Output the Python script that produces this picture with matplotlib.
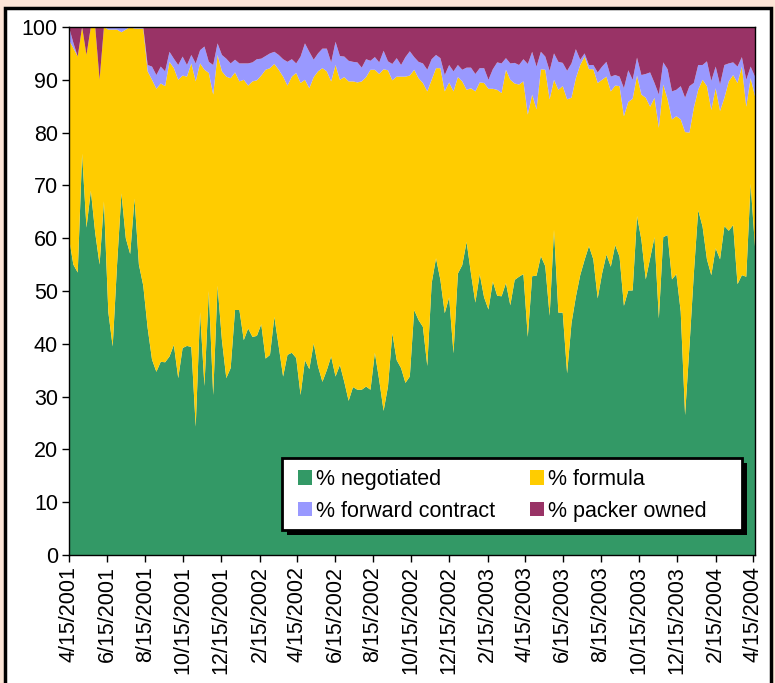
import pandas as pd
import matplotlib
matplotlib.use('Agg')
import matplotlib.pyplot as plt
from matplotlib.patches import Rectangle
from matplotlib.ticker import FuncFormatter
import matplotlib.dates as mdates

plt.rcParams['font.family'] = ['Liberation Sans', 'DejaVu Sans']

# weekly shares (%), starting 4/15/2001
negotiated = [60, 55, 53.5, 76, 62, 69, 61, 55, 67, 46,
              39.5, 55, 68.5, 60, 57, 67.5, 55, 51, 43, 37,
              34.7, 36.6, 36.5, 37.6, 39.8, 33.5, 39.2, 39.6, 39.4, 24.3,
              46, 32, 50, 30.3, 51, 40.7, 33.5, 35.4, 46.4, 46.4,
              40.7, 42.9, 41.3, 41.5, 43.7, 37.2, 37.9, 45.1, 39.5, 33.8,
              37.9, 38.3, 37.3, 30.3, 36.9, 35.2, 40.1, 35.7, 32.8, 35,
              37.6, 33.8, 36, 32.8, 29.2, 31.8, 31.3, 31.3, 31.9, 31.3,
              38.3, 33.1, 27.3, 31.9, 42, 36.9, 35.4, 32.6, 33.8, 46.4,
              44.5, 43.2, 35.8, 51.5, 56.2, 52.1, 45.8, 48.8, 38.2, 53.3,
              54.9, 59.3, 53.3, 47.8, 53.2, 48.8, 46.5, 51.8, 49.1, 49,
              51.5, 47.3, 52.1, 52.7, 53.2, 41.3, 52.8, 52.9, 56.6, 54.7,
              45.3, 61.6, 45.9, 45.9, 34.4, 43.9, 48.9, 53, 55.9, 58.5,
              56, 48.6, 53.3, 56.9, 54.6, 58.7, 56.5, 47.2, 50.1, 50.1,
              64.2, 59.7, 52.2, 56.2, 60.2, 44.8, 60.2, 60.6, 52.2, 53.2,
              46.1, 26.5, 39.5, 53.3, 65.3, 62.2, 56, 53, 58.1, 56,
              62.3, 61.4, 62.5, 51.3, 53, 52.7, 70.3, 58.4]

formula = [37.5, 41, 40.9, 24, 32.7, 31, 39, 35, 33, 53.5,
           60, 44.5, 30.5, 39.5, 43, 32.2, 44.7, 48.7, 48.6, 53,
           53.6, 52.7, 52.3, 55.8, 52.4, 56.5, 51.6, 51, 53.7, 65.4,
           47.1, 59.9, 41.3, 56.9, 43.7, 50.9, 57.1, 54.9, 45, 43.3,
           49.3, 46, 48.4, 48.4, 47.1, 54.7, 54.3, 47.9, 52.4, 56.8,
           51, 52.3, 54, 59.1, 53.1, 53.2, 50.4, 55.9, 59.4, 56.6,
           52.1, 59, 54, 57.7, 60.5, 57.9, 58.2, 58.4, 58.6, 60.6,
           53.6, 58, 64.7, 59.9, 47.9, 53.7, 55.2, 58, 57, 45.5,
           45.8, 46.2, 52, 38.5, 36, 40.1, 42, 40.7, 49.6, 37.2,
           34.8, 28.8, 35.1, 40, 36.3, 40.6, 41.8, 36.5, 39, 38.5,
           40.4, 42.7, 37.2, 36.4, 36.5, 42.1, 34.4, 31.5, 35.4, 37.2,
           41, 28.4, 42.2, 42.9, 51.9, 42.7, 41.4, 39.8, 38.5, 33.5,
           36, 40.8, 36.7, 33.7, 33.2, 30.2, 32.3, 35.9, 35.7, 36.3,
           26.6, 27.5, 34.4, 28.7, 26.4, 36.1, 28.9, 25.7, 30.3, 29.9,
           36.4, 53.6, 40.5, 31.4, 22.8, 27.8, 32.8, 31.3, 30.3, 28.1,
           24.3, 28.3, 28.4, 38.1, 39.5, 32.2, 20, 28.5]

forward = [2.5, 1, 0, 0, 0, 0, 0, 0, 0, 0.5,
           0.5, 0.5, 1, 0.5, 0, 0.3, 0.3, 0.3, 1.2, 2.5,
           2.6, 3.2, 2.8, 1.9, 1.8, 2.8, 3.6, 2.2, 1.6, 3.4,
           2.5, 4.4, 2.1, 5.6, 2.2, 3.1, 3.4, 2.8, 2.4, 3.4,
           3.1, 4.2, 3.6, 4, 3.2, 2.6, 2.8, 2.3, 2.8, 3.3,
           4.5, 3.3, 1.8, 5, 6.9, 6.9, 3.3, 3.4, 3.7, 4.3,
           3.6, 4.4, 4.5, 3.9, 3.9, 3.7, 3.8, 2.6, 3.4, 1.7,
           2.4, 2.2, 3.5, 1.7, 3.1, 3.5, 2.2, 3.7, 4.6, 2.4,
           3.1, 3.7, 4.1, 3.9, 2.5, 1.9, 3.1, 3.3, 3.8, 2.3,
           2.2, 4.2, 3.9, 3.3, 2.7, 2.8, 1.7, 3.7, 5.2, 5.6,
           2.2, 3.1, 3.9, 3.7, 4.2, 9.6, 8.1, 8.1, 3.3, 2.5,
           5.4, 5, 5.3, 4.4, 5.4, 6.5, 5.5, 1, 0.6, 0.8,
           0.8, 2, 2.5, 2.8, 2.8, 2, 1.8, 5.3, 6, 3.6,
           3.4, 3.7, 4.5, 6.5, 2.8, 6.3, 4.2, 5.7, 5.3, 5,
           6.3, 6.5, 8.8, 4.7, 4.7, 2.8, 4.7, 5.5, 4.1, 5,
           6.2, 3.4, 2.4, 3.1, 1.8, 5.1, 2.2, 3.7]

packer = [0, 3, 5.6, 0, 5.3, 0, 0, 10, 0, 0,
          0, 0, 0, 0, 0, 0, 0, 0, 7.2, 7.5,
          9.1, 7.5, 8.4, 4.7, 6, 7.2, 5.6, 7.2, 5.3, 6.9,
          4.4, 3.7, 6.6, 7.2, 3.1, 5.3, 6, 6.9, 6.2, 6.9,
          6.9, 6.9, 6.7, 6.1, 6.1, 5.5, 5, 4.7, 5.3, 6.1,
          6.6, 6.1, 6.9, 5.6, 3.1, 4.7, 6.2, 5, 4.1, 4.1,
          6.7, 2.8, 5.5, 5.6, 6.4, 6.6, 6.7, 7.7, 6.1, 6.4,
          5.7, 6.7, 4.5, 6.6, 7, 5.9, 7.2, 5.7, 4.7, 5.7,
          6.6, 6.9, 8.1, 6.1, 5.3, 5.9, 9.1, 7.2, 8.4, 7.2,
          8.1, 7.7, 7.7, 8.9, 7.8, 7.8, 10.1, 8.1, 6.7, 6.9,
          5.9, 6.9, 6.9, 7.2, 6.1, 7, 4.7, 7.5, 4.7, 5.6,
          8.4, 5, 6.6, 6.9, 8.4, 6.9, 4.2, 6.2, 5, 7.2,
          7.2, 8.6, 7.5, 6.6, 9.4, 9.1, 9.5, 11.6, 8.2, 10,
          5.9, 9.1, 8.9, 8.6, 10.6, 12.8, 6.7, 8.1, 12.2, 11.9,
          11.2, 13.4, 11.2, 10.6, 7.2, 7.2, 6.6, 10.3, 7.5, 10.9,
          7.2, 6.9, 6.7, 7.5, 5.7, 10, 7.5, 9.4]

labels = ['% negotiated', '% formula', '% forward contract', '% packer owned']
colors = ['#339966', '#FFCC00', '#9999FF', '#993366']

weeks = pd.date_range('2001-04-15', periods=len(negotiated), freq='7D')
tick_dates = pd.date_range('2001-04-01', '2004-04-01', freq='2MS') + pd.Timedelta(days=14)

fig = plt.figure(figsize=(7.75, 6.83), dpi=100, facecolor='#FCE4D6')
# white slide panel with black frame
fig.patches.append(Rectangle((5 / 775, -0.01), 766 / 775, 1 - 8 / 683 + 0.01,
                             transform=fig.transFigure, facecolor='white',
                             edgecolor='black', linewidth=2.5, zorder=-1))

ax = fig.add_axes([69 / 775, 1 - 555 / 683, 686 / 775, 528 / 683])
ax.stackplot(weeks, negotiated, formula, forward, packer,
             colors=colors, labels=labels, linewidth=0)

ax.set_xlim(weeks[0], weeks[-1])
ax.set_ylim(0, 100)
ax.set_yticks(range(0, 101, 10))
ax.set_xticks(tick_dates)
ax.xaxis.set_major_formatter(FuncFormatter(
    lambda v, p: '{d.month}/{d.day}/{d.year}'.format(d=mdates.num2date(v))))
ax.tick_params(axis='x', labelrotation=90, labelsize=15.5, length=5, width=1,
               direction='out', pad=3)
ax.tick_params(axis='y', labelsize=15.5, length=5, width=1, direction='out', pad=3)
for s in ax.spines.values():
    s.set_linewidth(1)
    s.set_color('black')

# legend box + shadow drawn as patches, entries placed inside
px = lambda x: (x - 69) / 686
py = lambda y: (555 - y) / 528
ax.add_patch(Rectangle((px(287), py(535)), 460 / 686, 72 / 528, transform=ax.transAxes,
                       facecolor='black', edgecolor='none', zorder=4, clip_on=False))
ax.add_patch(Rectangle((px(282), py(530)), 460 / 686, 72 / 528, transform=ax.transAxes,
                       facecolor='white', edgecolor='black', linewidth=2,
                       zorder=4.5, clip_on=False))

h, l = ax.get_legend_handles_labels()
order = [0, 2, 1, 3]
leg = ax.legend([h[i] for i in order], [l[i] for i in order], ncol=2,
                loc='upper left', bbox_to_anchor=(px(298), py(469)),
                fontsize=15.5, frameon=False, borderpad=0, borderaxespad=0,
                handlelength=0.65, handleheight=0.65, handletextpad=0.2,
                labelspacing=0.5, columnspacing=1.6)
leg.set_zorder(5)

fig.savefig('out.png', dpi=100, facecolor=fig.get_facecolor())
